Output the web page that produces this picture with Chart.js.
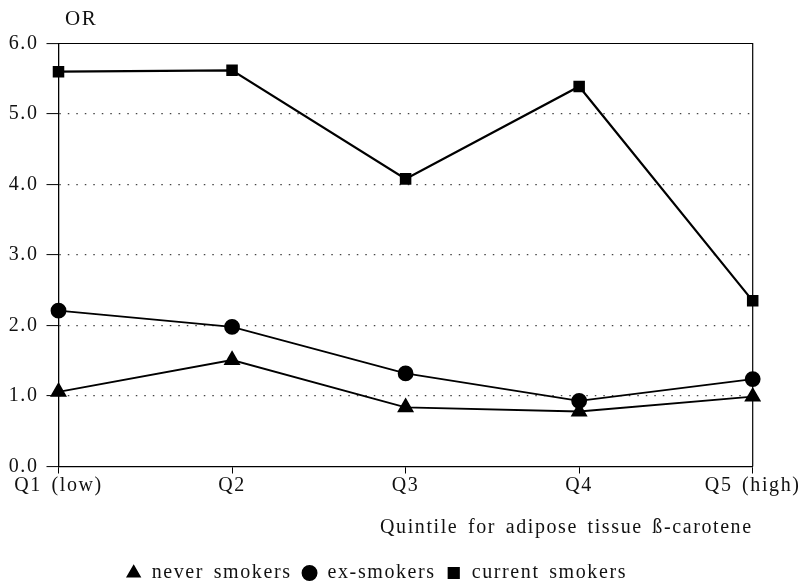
<!DOCTYPE html>
<html><head><meta charset="utf-8">
<script src="https://cdn.jsdelivr.net/npm/chart.js@4"></script>
<style>html,body{margin:0;padding:0;background:#fff}canvas{display:block}</style>
</head><body>
<canvas id="c" width="801" height="588" style="width:801px;height:588px"></canvas>
<script>
const categories = ['Q1 (low)', 'Q2', 'Q3', 'Q4', 'Q5 (high)'];
const neverSmokers = [1.06, 1.51, 0.84, 0.78, 0.99];
const exSmokers = [2.21, 1.98, 1.32, 0.93, 1.24];
const currentSmokers = [5.60, 5.62, 4.08, 5.39, 2.35];
const yTickValues = [0, 1, 2, 3, 4, 5, 6];
const yAxisLabel = 'OR';
const xAxisLabel = 'Quintile for adipose tissue \u00DF-carotene';
const seriesNames = ['never smokers', 'ex-smokers', 'current smokers'];

const FONT = "'Liberation Serif', 'Times New Roman', serif";
Chart.defaults.font.family = FONT;
Chart.defaults.font.size = 20;
Chart.defaults.color = '#111';

function setSpacing(ctx) {
  ctx.letterSpacing = '1.6px';
  ctx.wordSpacing = '3px';
}

const spacingPlugin = {
  id: 'spacing',
  beforeUpdate(chart) { setSpacing(chart.ctx); },
  beforeLayout(chart) { setSpacing(chart.ctx); },
  beforeDraw(chart) { setSpacing(chart.ctx); }
};

const framePlugin = {
  id: 'frame',
  beforeDatasetsDraw(chart) {
    const {ctx, chartArea: a} = chart;
    ctx.save();
    ctx.strokeStyle = '#000';
    ctx.lineWidth = 1.2;
    ctx.beginPath();
    ctx.moveTo(a.left, a.top);
    ctx.lineTo(a.right, a.top);
    ctx.lineTo(a.right, a.bottom);
    ctx.stroke();
    ctx.restore();
  },
  afterDraw(chart) {
    const ctx = chart.ctx;
    ctx.save();
    setSpacing(ctx);
    ctx.font = '21px ' + FONT;
    ctx.fillStyle = '#111';
    ctx.textAlign = 'left';
    ctx.textBaseline = 'middle';
    ctx.fillText(yAxisLabel, 65, 19);
    ctx.restore();
  }
};

new Chart(document.getElementById('c'), {
  type: 'line',
  data: {
    labels: categories,
    datasets: [
      { label: seriesNames[0], data: neverSmokers, borderColor: '#000', backgroundColor: '#000',
        borderWidth: 1.8, pointStyle: 'triangle', pointRadius: 8, pointHoverRadius: 8, tension: 0 },
      { label: seriesNames[1], data: exSmokers, borderColor: '#000', backgroundColor: '#000',
        borderWidth: 1.8, pointStyle: 'circle', pointRadius: 7, pointHoverRadius: 7, tension: 0 },
      { label: seriesNames[2], data: currentSmokers, borderColor: '#000', backgroundColor: '#000',
        borderWidth: 2.2, pointStyle: 'rect', pointRadius: 6.6, pointHoverRadius: 6.6, tension: 0 }
    ]
  },
  options: {
    responsive: false,
    animation: false,
    devicePixelRatio: 1,
    layout: { padding: { top: 43.5, right: 48.3, left: 0, bottom: 0 } },
    plugins: {
      tooltip: { enabled: false },
      legend: {
        position: 'bottom',
        maxHeight: 35,
        labels: {
          usePointStyle: true,
          boxWidth: 16,
          boxHeight: 10,
          padding: 10,
          color: '#111',
          font: { size: 20, family: FONT }
        }
      }
    },
    scales: {
      x: {
        type: 'category',
        offset: false,
        afterFit(scale) { scale.height = 86.5; },
        grid: { drawOnChartArea: false, drawTicks: true, tickLength: 7, tickColor: '#000', tickWidth: 1 },
        border: { display: true, color: '#000', width: 1.3 },
        ticks: { padding: 0, color: '#111', maxRotation: 0, autoSkip: false, font: { size: 20 } },
        title: { display: true, text: xAxisLabel, align: 'end', color: '#111',
                 font: { size: 20 }, padding: { top: 0, bottom: 13 } }
      },
      y: {
        min: 0,
        max: 6,
        afterFit(scale) { scale.width = 58.5; },
        afterBuildTicks(scale) { scale.ticks = yTickValues.map(v => ({ value: v })); },
        grid: {
          color: c => (c.tick && (c.tick.value === 0 || c.tick.value === 6)) ? 'rgba(0,0,0,0)' : '#444',
          lineWidth: 1.2,
          drawTicks: true,
          tickLength: 12,
          tickColor: '#000',
          tickWidth: 1
        },
        border: { display: true, color: '#000', width: 1.3, dash: [1.5, 7] },
        ticks: { padding: 8, color: '#111', font: { size: 20 }, callback: v => Number(v).toFixed(1) }
      }
    }
  },
  plugins: [spacingPlugin, framePlugin]
});
</script>
</body></html>
